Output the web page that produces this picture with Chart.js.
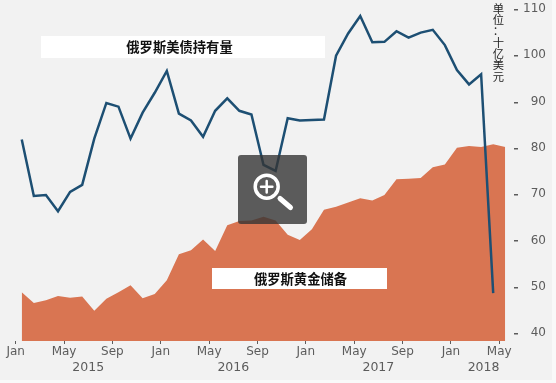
<!DOCTYPE html>
<html>
<head>
<meta charset="utf-8">
<script src="https://cdn.jsdelivr.net/npm/chart.js@4"></script>
<style>
  body { margin: 0; background: #f9f9f9; }
  canvas { display: block; }
</style>
</head>
<body>
<canvas id="reserveChart" width="556" height="383"></canvas>
<script>
// 月次データ (2015年1月から)
const treasuryValues = [81.8, 69.6, 69.8, 66.3, 70.5, 72, 82, 89.7, 88.9, 82, 87.6, 91.9, 96.6, 87.4, 85.9, 82.4, 88, 90.7, 88, 87.2,
  76.3, 75, 86.4, 85.9, 86, 86.1, 99.9, 104.7, 108.5, 102.8, 102.9, 105.2, 103.8, 104.9, 105.5, 102.2, 96.8, 93.7, 95.9, 48.6];
const goldValues = [48.8, 46.5, 47.1, 48, 47.6, 47.9, 44.8, 47.4, 48.8, 50.3, 47.5, 48.4, 51.4, 57, 57.9, 60.2, 57.7, 63.3, 64.2, 64.3,
  65.1, 64.3, 61.2, 60.1, 62.4, 66.6, 67.3, 68.2, 69.1, 68.6, 69.8, 73.2, 73.3, 73.5, 75.8, 76.4, 80, 80.4, 80.2, 80.8, 80.2];

const monthTicks = [0, 4, 8, 12, 16, 20, 24, 28, 32, 36, 40];
const monthLabels = ['Jan', 'May', 'Sep', 'Jan', 'May', 'Sep', 'Jan', 'May', 'Sep', 'Jan', 'May'];
const yearTicks = [6, 18, 30, 38.7];
const yearLabels = ['2015', '2016', '2017', '2018'];
const valueTicks = [40, 50, 60, 70, 80, 90, 100, 110];

const treasuryName = '俄罗斯美债持有量';
const goldName = '俄罗斯黄金储备';
const unitText = '单位：十亿美元';

const tickColor = '#5c5c5c';
const tickFont = { family: '"DejaVu Sans"', size: 12 };
const cjkBold = 'bold 13.3px "Noto Sans CJK SC"';

// 各月の中央に点を置く
const toPoints = values => values.map((v, i) => ({ x: i + 0.5, y: v }));

// ラベル、単位、虫眼鏡を上に描く
const overlayPlugin = {
  id: 'overlay',
  beforeDraw(chart) {
    // 右と下に薄い余白が残る
    chart.ctx.fillStyle = '#f2f2f2';
    chart.ctx.fillRect(0, 0, 552, 380);
  },
  afterDraw(chart) {
    const c = chart.ctx;
    const yScale = chart.scales.y;
    c.save();

    // 右軸の目盛り
    c.fillStyle = tickColor;
    valueTicks.forEach(v => {
      c.fillRect(514, Math.round(yScale.getPixelForValue(v)), 4, 1.5);
    });

    // 白いラベル
    c.fillStyle = '#ffffff';
    c.fillRect(41, 36, 284, 22);
    c.fillRect(212, 268, 175, 21);
    c.fillStyle = '#111111';
    c.font = cjkBold;
    c.textAlign = 'center';
    c.textBaseline = 'middle';
    c.fillText(treasuryName, 179.5, 47);
    c.fillText(goldName, 300.5, 279);

    // 単位 (縦書き)
    c.font = '11.3px "Noto Sans CJK SC"';
    c.fillStyle = '#222222';
    Array.from(unitText).forEach((ch, i) => {
      c.fillText(ch, 498.5, 8.5 + i * 11.3);
    });

    // 虫眼鏡
    c.fillStyle = 'rgba(52, 52, 52, 0.8)';
    c.beginPath();
    c.roundRect(238, 155, 69, 69, 3);
    c.fill();
    c.strokeStyle = '#ffffff';
    c.lineCap = 'round';
    c.lineWidth = 3.5;
    c.beginPath();
    c.arc(266.7, 186.7, 11.5, 0, Math.PI * 2);
    c.stroke();
    c.lineWidth = 2.5;
    c.beginPath();
    c.moveTo(261, 186.7);
    c.lineTo(272.4, 186.7);
    c.moveTo(266.7, 181);
    c.lineTo(266.7, 192.4);
    c.stroke();
    c.lineWidth = 5;
    c.beginPath();
    c.moveTo(280, 198.5);
    c.lineTo(290.5, 207.5);
    c.stroke();

    c.restore();
  }
};

const ctx = document.getElementById('reserveChart').getContext('2d');
const reserveChart = new Chart(ctx, {
  type: 'line',
  data: {
    datasets: [
      {
        label: treasuryName,
        data: toPoints(treasuryValues),
        borderColor: '#1d4f73',
        borderWidth: 2.5,
        pointRadius: 0,
        tension: 0,
        fill: false,
        order: 1
      },
      {
        label: goldName,
        data: toPoints(goldValues),
        borderWidth: 0,
        backgroundColor: '#d97552',
        pointRadius: 0,
        tension: 0,
        fill: 'start',
        order: 2
      }
    ]
  },
  options: {
    responsive: false,
    animation: false,
    layout: { padding: { left: 15.7, top: 0, right: 10, bottom: 0 } },
    plugins: { legend: { display: false }, tooltip: { enabled: false } },
    scales: {
      x: {
        type: 'linear',
        position: 'bottom',
        min: 0,
        max: 40.5,
        afterBuildTicks: axis => { axis.ticks = monthTicks.map(v => ({ value: v })); },
        afterFit: axis => { axis.height = 18; },
        border: { display: false },
        grid: { drawOnChartArea: false, tickLength: 3, tickColor: tickColor, tickWidth: 1 },
        ticks: {
          autoSkip: false,
          maxRotation: 0,
          padding: 1,
          color: tickColor,
          font: tickFont,
          callback: v => monthLabels[monthTicks.indexOf(v)]
        }
      },
      years: {
        type: 'linear',
        position: 'bottom',
        min: 0,
        max: 40.5,
        afterBuildTicks: axis => { axis.ticks = yearTicks.map(v => ({ value: v })); },
        afterFit: axis => { axis.height = 24; },
        border: { display: false },
        grid: { display: false, drawTicks: false },
        ticks: {
          autoSkip: false,
          maxRotation: 0,
          padding: 1,
          color: tickColor,
          font: { family: '"DejaVu Sans"', size: 12.5 },
          callback: v => yearLabels[yearTicks.indexOf(v)]
        }
      },
      y: {
        position: 'right',
        min: 38.27,
        max: 111.94,
        afterBuildTicks: axis => { axis.ticks = valueTicks.map(v => ({ value: v })); },
        // ticks.padding が上下の余白に入るので消す
        afterFit: axis => { axis.width = 40.7; axis.paddingTop = 0; axis.paddingBottom = 0; },
        border: { display: false },
        grid: { display: false, drawTicks: false },
        ticks: {
          padding: 7.5,
          crossAlign: 'far',
          color: tickColor,
          font: tickFont
        }
      }
    }
  },
  plugins: [overlayPlugin]
});
</script>
</body>
</html>
